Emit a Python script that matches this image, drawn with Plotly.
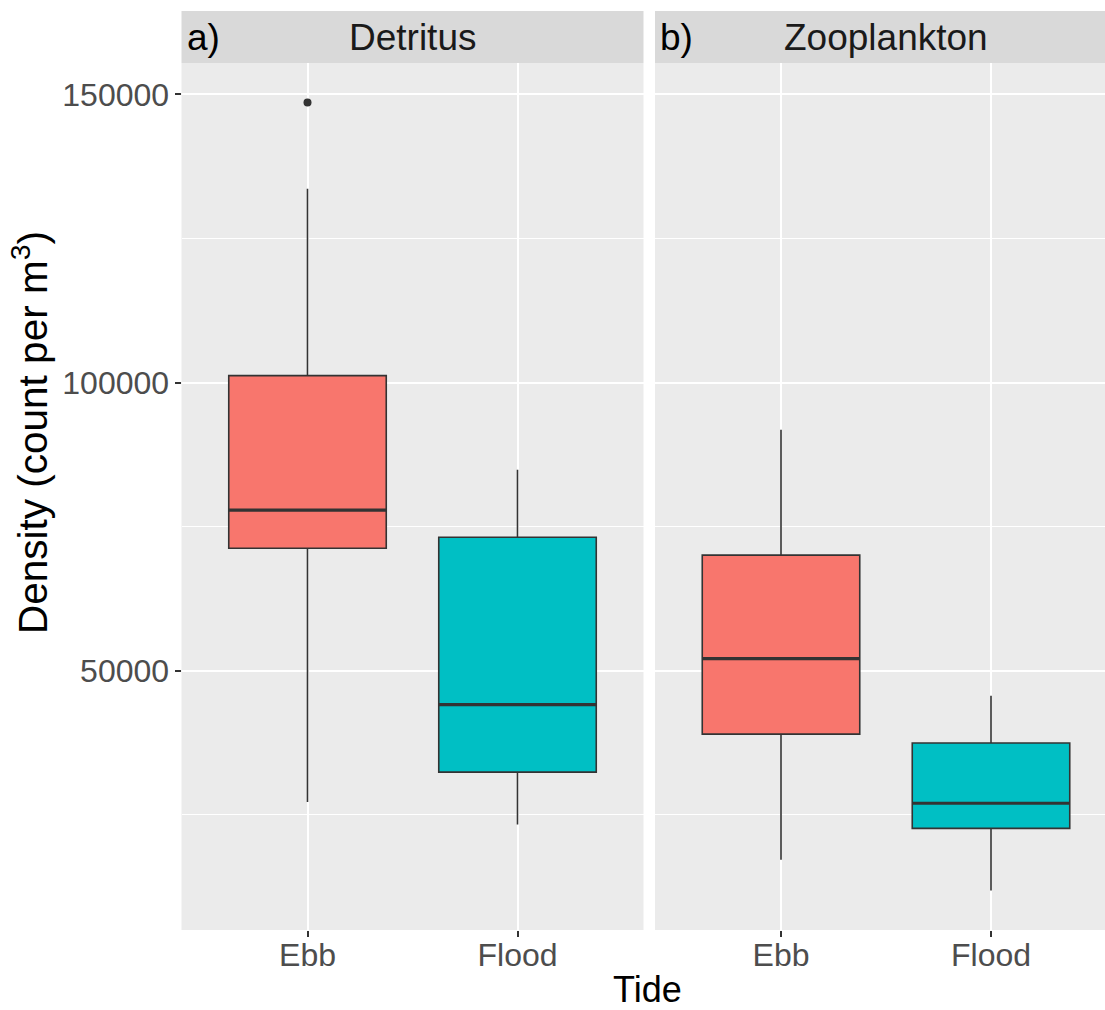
import plotly.graph_objects as go

# Box-plot summaries of plankton-net densities (count per m^3) by tide
panels = ["Detritus", "Zooplankton"]
panel_tags = ["a)", "b)"]
tides = ["Ebb", "Flood"]
tide_colors = ["#F8766D", "#00BFC4"]

# [panel][tide]
lower_whisker = [[27200, 23300], [17200, 11850]]
q1 = [[71250, 32400], [39000, 22650]]
median = [[77850, 44100], [52100, 27000]]
q3 = [[101200, 73150], [70050, 37450]]
upper_whisker = [[133600, 84850], [91800, 45650]]

# outliers: (panel index, tide index, value)
outliers = [(0, 0, 148600)]

y_tick_values = [50000, 100000, 150000]
y_minor_values = [25000, 75000, 125000]

BOX_W = 0.75
W, H = 1105, 1010
px_x = lambda p: p / W
px_y = lambda p: 1 - p / H

# panel a spans its full width; panel b runs past the right page edge
UNIT_PX = 210.0
x_domains = [[px_x(181.5), px_x(643.5)], [px_x(655), 1.0]]
x_ranges = [[0.4, 2.6], [0.4, 0.4 + (W - 655) / UNIT_PX]]
y_domain = [px_y(930), px_y(63)]
strip_top = px_y(11)

all_vals = [v for arr in (lower_whisker, upper_whisker) for row in arr for v in row]
all_vals += [o[2] for o in outliers]
lo, hi = min(all_vals), max(all_vals)
pad = 0.05 * (hi - lo)
y_range = [lo - pad, hi + pad]

fig = go.Figure()

for p in range(len(panels)):
    xa = "x" if p == 0 else "x2"
    ya = "y" if p == 0 else "y2"
    for t, tide in enumerate(tides):
        pos = t + 1
        fig.add_trace(go.Box(
            x=[pos], q1=[q1[p][t]], median=[median[p][t]], q3=[q3[p][t]],
            lowerfence=[lower_whisker[p][t]], upperfence=[upper_whisker[p][t]],
            width=BOX_W, whiskerwidth=0, boxpoints=False,
            fillcolor=tide_colors[t],
            line=dict(color="#333333", width=1.6),
            xaxis=xa, yaxis=ya, showlegend=False, name=tide,
        ))
        # thicker median bar
        fig.add_trace(go.Scatter(
            x=[pos - BOX_W / 2, pos + BOX_W / 2],
            y=[median[p][t], median[p][t]],
            mode="lines", line=dict(color="#333333", width=3.2),
            xaxis=xa, yaxis=ya, showlegend=False, hoverinfo="skip",
        ))
    ox = [o[1] + 1 for o in outliers if o[0] == p]
    oy = [o[2] for o in outliers if o[0] == p]
    if ox:
        fig.add_trace(go.Scatter(
            x=ox, y=oy, mode="markers",
            marker=dict(color="#333333", size=8),
            xaxis=xa, yaxis=ya, showlegend=False,
        ))

font_family = "Liberation Sans, Arial, sans-serif"
tick_font = dict(family=font_family, size=32, color="#4D4D4D")

xaxis_common = dict(
    tickvals=[1, 2], ticktext=tides,
    showgrid=True, gridcolor="white", gridwidth=2,
    ticks="outside", ticklen=6, tickwidth=1.5, tickcolor="#333333",
    tickfont=tick_font, ticklabelstandoff=-9,
    zeroline=False, showline=False, fixedrange=True,
)
yaxis_common = dict(
    range=y_range, domain=y_domain,
    tickvals=y_tick_values, ticktext=[str(v) for v in y_tick_values],
    showgrid=True, gridcolor="white", gridwidth=2,
    minor=dict(tickvals=y_minor_values, showgrid=True,
               gridcolor="white", gridwidth=1, ticks=""),
    zeroline=False, showline=False,
)

fig.update_layout(
    width=W, height=H, autosize=False,
    margin=dict(l=0, r=0, t=0, b=0),
    paper_bgcolor="white", plot_bgcolor="#EBEBEB",
    xaxis=dict(domain=x_domains[0], range=x_ranges[0], anchor="y", **xaxis_common),
    xaxis2=dict(domain=x_domains[1], range=x_ranges[1], anchor="y2", **xaxis_common),
    yaxis=dict(anchor="x", ticks="outside", ticklen=6, tickwidth=1.5,
               tickcolor="#333333", ticklabelstandoff=-1,
               tickfont=tick_font, **yaxis_common),
    yaxis2=dict(anchor="x2", matches="y", showticklabels=False, ticks="",
                **yaxis_common),
)

shapes = []
annotations = []
for p, name in enumerate(panels):
    x0, x1 = x_domains[p]
    strip_right = x1 if p == 0 else px_x(655 + 2.2 * UNIT_PX)
    shapes.append(dict(type="rect", xref="paper", yref="paper",
                       x0=x0, x1=x1, y0=y_domain[1], y1=strip_top,
                       fillcolor="#D9D9D9", line=dict(width=0), layer="below"))
    annotations.append(dict(text=name, xref="paper", yref="paper",
                            x=(x0 + strip_right) / 2, y=(y_domain[1] + strip_top) / 2,
                            xanchor="center", yanchor="middle", showarrow=False,
                            font=dict(family=font_family, size=37, color="#1A1A1A")))
    annotations.append(dict(text=panel_tags[p], xref="paper", yref="paper",
                            x=x0 + px_x(3), y=(y_domain[1] + strip_top) / 2,
                            xanchor="left", yanchor="middle", showarrow=False,
                            font=dict(family=font_family, size=37, color="black")))

annotations.append(dict(text="Tide", xref="paper", yref="paper",
                        x=px_x(647), y=px_y(989), xanchor="center", yanchor="middle",
                        showarrow=False,
                        font=dict(family=font_family, size=36, color="black")))
annotations.append(dict(text="Density (count per m<sup>3</sup>)", xref="paper", yref="paper",
                        x=px_x(30), y=px_y(433), xanchor="center", yanchor="middle",
                        textangle=-90, showarrow=False,
                        font=dict(family=font_family, size=40.5, color="black")))

fig.update_layout(shapes=shapes, annotations=annotations)

fig.write_html("out.html")
